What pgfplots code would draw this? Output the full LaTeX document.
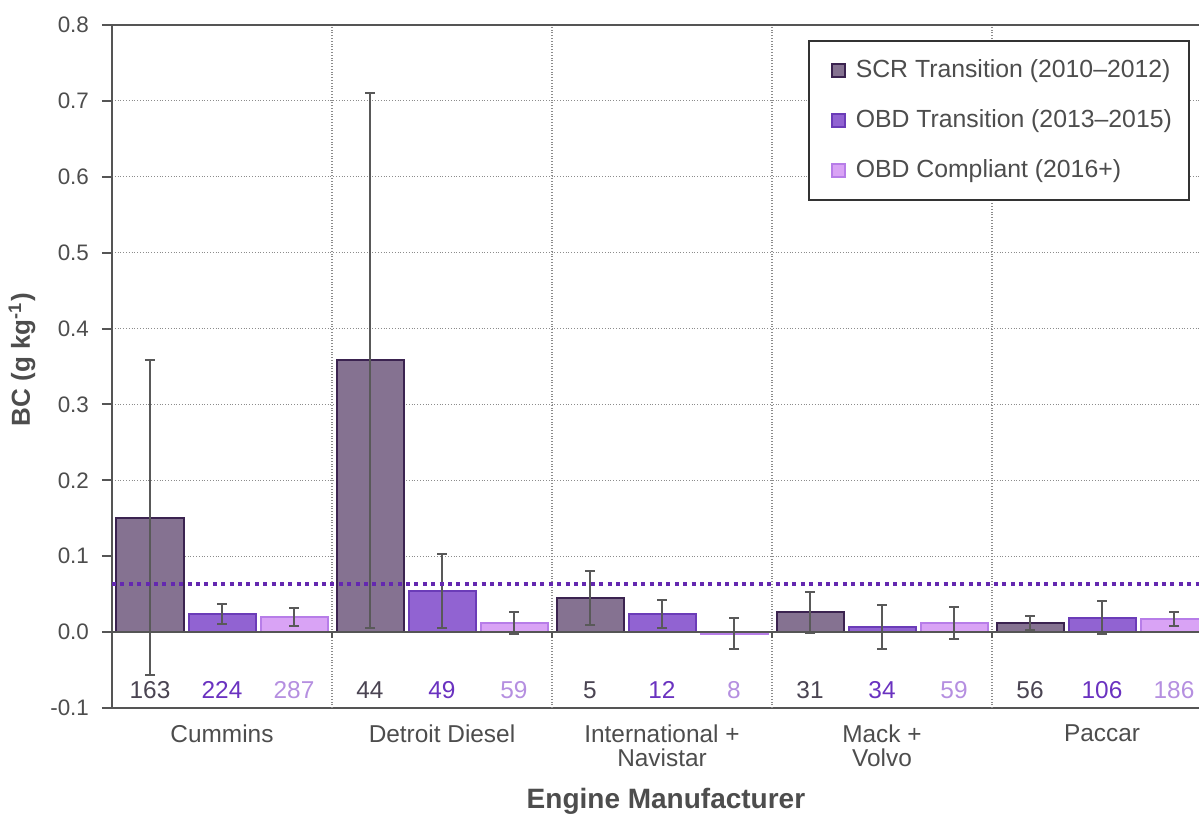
\documentclass[border=0pt]{standalone}
\usepackage{pgfplots}
\pgfplotsset{compat=1.18}
\usepackage{fontspec}
\setmainfont{Liberation Sans}
\definecolor{scrF}{HTML}{857291}
\definecolor{scrE}{HTML}{3B2350}
\definecolor{obdtF}{HTML}{9163D2}
\definecolor{obdtE}{HTML}{6B3CB8}
\definecolor{obdcF}{HTML}{D9A3F5}
\definecolor{obdcE}{HTML}{B77DE8}
\definecolor{scrT}{HTML}{4A4452}
\definecolor{obdtT}{HTML}{6A32C0}
\definecolor{obdcT}{HTML}{B58FE0}
\definecolor{axc}{HTML}{555555}
\definecolor{txt}{HTML}{4D4D4D}
\definecolor{refl}{HTML}{6428B0}
\tikzset{cnt/.style={font=\fontsize{12.2}{13}\selectfont}}
\begin{document}
\begin{tikzpicture}
\begin{axis}[
  at={(56pt,54pt)}, anchor=south west,
  width=550pt, height=341.5pt, scale only axis,
  xmin=-0.5, xmax=4.5, ymin=-0.1, ymax=0.8,
  ybar=2.5pt, bar width=33.5pt,
  axis line style={color=axc, line width=1pt},
  xtick={0,1,2,3,4},
  xticklabels={Cummins, Detroit Diesel, {International +\\Navistar}, {Mack +\\Volvo}, Paccar},
  xticklabel style={align=center, font=\fontsize{12.2}{12}\selectfont, text=txt},
  x tick style={draw=none},
  extra x ticks={0.5,1.5,2.5,3.5},
  extra x tick labels={},
  extra x tick style={grid=major, major tick length=0pt},
  ytick={-0.1,0,0.1,0.2,0.3,0.4,0.5,0.6,0.7,0.8},
  ymajorgrids,
  grid style={densely dotted, color=black!45, line width=0.6pt},
  tick align=outside, major tick length=5pt,
  y tick style={color=axc, line width=1pt},
  ytick pos=left,
  yticklabel style={/pgf/number format/.cd, fixed, fixed zerofill, precision=1, assume math mode=true, /tikz/.cd, font=\fontsize{11.2}{13}\selectfont, text=txt, xshift=-3pt},
  xlabel={\textbf{Engine Manufacturer}},
  xlabel style={at={(axis description cs:0.5036,-0.136)}, anchor=center, font=\fontsize{14}{16}\selectfont, text=txt},
  ylabel={\textbf{BC (g kg\textsuperscript{-1})}},
  ylabel style={at={(axis description cs:-0.0818,0.51)}, anchor=center, font=\fontsize{13}{15}\selectfont, text=txt},
  legend style={at={(axis description cs:0.6327,0.978)}, anchor=north west, draw=black!80, line width=0.8pt, fill=white,
    font=\fontsize{12.4}{14}\selectfont, text=txt, inner xsep=7pt, inner ysep=8pt, row sep=11.5pt,
    nodes={inner sep=1.5pt}},
  legend cell align=left,
  legend image code/.code={\path (0pt,0pt) (14pt,0pt); \draw[#1, line width=0.8pt] (4pt,-3.25pt) rectangle (10.5pt,3.25pt);},
  error bars/y dir=both, error bars/y explicit,
  error bars/error mark=|,
  error bars/error bar style={color=black!65, line width=1pt},
  error bars/error mark options={color=black!65, line width=1pt, mark size=2.5pt},
  clip=false,
]
\addplot[fill=scrF, draw=scrE, line width=1pt] coordinates {
  (0,0.151) +- (0,0.207)
  (1,0.358) +- (0,0.352)
  (2,0.045) +- (0,0.035)
  (3,0.026) +- (0,0.027)
  (4,0.012) +- (0,0.009)
};
\addlegendentry{SCR Transition (2010--2012)}
\addplot[fill=obdtF, draw=obdtE, line width=1pt] coordinates {
  (0,0.024) +- (0,0.013)
  (1,0.054) +- (0,0.049)
  (2,0.024) +- (0,0.018)
  (3,0.007) +- (0,0.029)
  (4,0.019) +- (0,0.022)
};
\addlegendentry{OBD Transition (2013--2015)}
\addplot[fill=obdcF, draw=obdcE, line width=1pt] coordinates {
  (0,0.020) +- (0,0.012)
  (1,0.012) +- (0,0.015)
  (2,-0.002) +- (0,0.020)
  (3,0.012) +- (0,0.021)
  (4,0.017) +- (0,0.009)
};
\addlegendentry{OBD Compliant (2016+)}
\addplot[sharp plot, forget plot, color=refl, line width=1.9pt, dash pattern=on 2pt off 2.2pt, error bars/y dir=none] coordinates {(-0.5,0.063) (4.5,0.063)};
\draw[color=axc, line width=1pt] (axis cs:-0.5,0) -- (axis cs:4.5,0);
\draw[color=axc, line width=1pt] (axis cs:0.5,0) -- ([yshift=-3pt]axis cs:0.5,0);
\draw[color=axc, line width=1pt] (axis cs:1.5,0) -- ([yshift=-3pt]axis cs:1.5,0);
\draw[color=axc, line width=1pt] (axis cs:2.5,0) -- ([yshift=-3pt]axis cs:2.5,0);
\draw[color=axc, line width=1pt] (axis cs:3.5,0) -- ([yshift=-3pt]axis cs:3.5,0);
\node[cnt, text=scrT] at ([xshift=-36pt]axis cs:0,-0.0765) {163};
\node[cnt, text=obdtT] at (axis cs:0,-0.0765) {224};
\node[cnt, text=obdcT] at ([xshift=36pt]axis cs:0,-0.0765) {287};
\node[cnt, text=scrT] at ([xshift=-36pt]axis cs:1,-0.0765) {44};
\node[cnt, text=obdtT] at (axis cs:1,-0.0765) {49};
\node[cnt, text=obdcT] at ([xshift=36pt]axis cs:1,-0.0765) {59};
\node[cnt, text=scrT] at ([xshift=-36pt]axis cs:2,-0.0765) {5};
\node[cnt, text=obdtT] at (axis cs:2,-0.0765) {12};
\node[cnt, text=obdcT] at ([xshift=36pt]axis cs:2,-0.0765) {8};
\node[cnt, text=scrT] at ([xshift=-36pt]axis cs:3,-0.0765) {31};
\node[cnt, text=obdtT] at (axis cs:3,-0.0765) {34};
\node[cnt, text=obdcT] at ([xshift=36pt]axis cs:3,-0.0765) {59};
\node[cnt, text=scrT] at ([xshift=-36pt]axis cs:4,-0.0765) {56};
\node[cnt, text=obdtT] at (axis cs:4,-0.0765) {106};
\node[cnt, text=obdcT] at ([xshift=36pt]axis cs:4,-0.0765) {186};
\end{axis}
\pgfresetboundingbox
\useasboundingbox (0,0) rectangle (599.5pt,408pt);
\end{tikzpicture}
\end{document}
